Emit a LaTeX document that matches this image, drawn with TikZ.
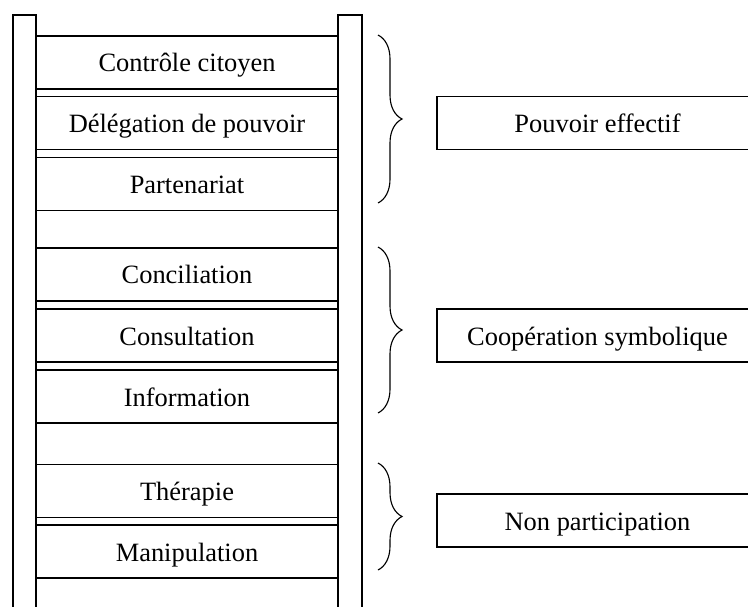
\documentclass[tikz,border=0pt]{standalone}
\usepackage{fontspec}
\setmainfont{Liberation Serif}
\usetikzlibrary{decorations.pathreplacing}

\tikzset{
  rung/.style={draw, line width=1.1pt, minimum width=7.55cm, minimum height=1.325cm,
    inner sep=0pt, text height=13.5pt, text depth=0pt,
    font=\fontsize{18.8}{22}\selectfont},
  level/.style={draw, line width=1.1pt, minimum width=8.025cm, minimum height=1.32cm,
    inner sep=0pt, text height=13.5pt, text depth=0pt,
    font=\fontsize{18.8}{22}\selectfont},
  bracket/.style={decorate, decoration={brace, amplitude=0.6cm}, line width=0.8pt}
}

\begin{document}
\begin{tikzpicture}[x=0.025cm, y=-0.025cm]
    \useasboundingbox (0,0) rectangle (748,606);
    \clip (0,0) rectangle (748,606);

    % Rungs of the ladder
    \node[rung] (controle) at (187,62.5) {Contrôle citoyen};
    \node[rung] (delegation) at (187,123) {Délégation de pouvoir};
    \node[rung] (partenariat) at (187,184) {Partenariat};

    \node[rung] (conciliation) at (187,274.5) {Conciliation};
    \node[rung] (consultation) at (187,335.5) {Consultation};
    \node[rung] (information) at (187,396.5) {Information};

    \node[rung] (therapie) at (187,491) {Thérapie};
    \node[rung] (manipulation) at (187,551.5) {Manipulation};

    % Rails
    \draw[line width=1.1pt] (13,650) -- (13,15) -- (36,15) -- (36,650);
    \draw[line width=1.1pt] (338,650) -- (338,15) -- (362,15) -- (362,650);

    % Levels
    \node[level] (pouvoir) at (597.5,123) {Pouvoir effectif};
    \node[level] (cooperation) at (597.5,335.5) {Coopération symbolique};
    \node[level] (nonpart) at (597.5,520.5) {Non participation};

    % Braces
    \coordinate (haut1) at (378,35);
    \coordinate (bas1) at (378,203);
    \coordinate (haut2) at (378,247);
    \coordinate (bas2) at (378,413);
    \coordinate (haut3) at (378,463);
    \coordinate (bas3) at (378,570);

    \draw[bracket] (haut1) -- (bas1);
    \draw[bracket] (haut2) -- (bas2);
    \draw[bracket] (haut3) -- (bas3);
\end{tikzpicture}
\end{document}
